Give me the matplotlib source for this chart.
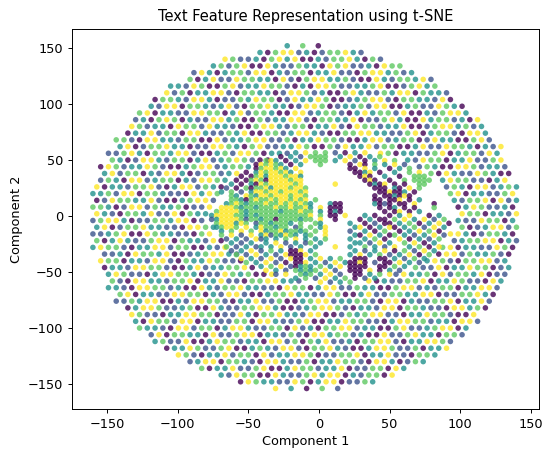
import matplotlib
matplotlib.use("Agg")
import matplotlib.pyplot as plt

# ---------------- text ----------------
title = "Text Feature Representation using t-SNE"
xlabel = "Component 1"
ylabel = "Component 2"
xticks = [-150, -100, -50, 0, 50, 100, 150]
yticks = [-150, -100, -50, 0, 50, 100, 150]
classes = [0, 1, 2, 3, 4]

# ---------------- data maps ----------------
# Outer ring of the embedding: one character per point on a staggered grid,
# digit = class label, '.' = no point.
outer_map = [
    "." * 25 + "2.3.0",
    "." * 21 + "20344120133421",
    "." * 17 + "431120342400213342031",
    "." * 15 + "2313400421132204341120433",
    "." * 13 + "14202331440213302241103442312",
    "." * 12 + "30241143322041034422310042133241",
    "." * 10 + "22143003412243310204431122340013423",
    "." * 9 + "4130224410332201443120034211324403221",
    "." * 8 + "033214420113243301422430012344103322140",
    "." * 7 + "21440332124103342201443012231440023114320",
    "." * 6 + "3402211443302413320044123310242331400213442",
    "." * 5 + "120343021144230031224410332240113420042331204",
    "." * 5 + "4312204331422100344213302241043312240013442312",
    "." * 4 + "02241330442113240033124421003344221134023310442",
    "." * 3 + "3310442213300412234411302243310024412330142200341",
    "." * 3 + "24013342201144320341122430031422413300241143320214",
    "." * 2 + "113420332441002314430221" + "." * 11 + "4302211340233142",
    "." * 2 + "320144213302412343100" + "." * 17 + "2143302241134",
    "." * 1 + "04312243100234412332" + "." * 21 + "132004431221",
    "." * 1 + "241330214420133124" + "." * 24 + "30421143200",
    "." * 1 + "13204412330214432" + "." * 27 + "243311024",
    "40221334102441320" + "." * 28 + "1320441232",
    "22314403321104243" + "." * 29 + "340221134",
    "0143322410023441" + "." * 30 + "213340412",
    "3320144132230114" + "." * 31 + "02431120",
    "421033241140322" + "." * 32 + "43302214",
    "134420113324401" + "." * 32 + "21143302",
    "2401334221104432" + "." * 31 + "30124413",
    "1123400432211034" + "." * 30 + "442013320",
    "30242113440322140" + "." * 29 + "123344021",
    "243310224413300214" + "." * 27 + "3402211430",
    "." * 1 + "112043324001234421" + "." * 25 + "0441322310",
    "." * 1 + "4330221441032243110" + "." * 23 + "24310334412",
    "." * 1 + "02214433100241223340" + "." * 20 + "3114022433012",
    "." * 2 + "2431102443320114323004" + "." * 15 + "142230413324011",
    "." * 2 + "3104422133402241103344221" + "." * 8 + "402113340224311042",
    "." * 2 + "221044331200421334221104330244113220034412133022441",
    "." * 3 + "3402211443302144100233422114300241133224401133420",
    "." * 3 + "1132440021443310224113002344122331044021133402241",
    "." * 4 + "02443112300421133442001234431022144033211044230",
    "." * 5 + "431102244330114203342214400132344110224331004",
    "." * 5 + "204331440221133044211340022433110244331220441",
    "." * 6 + "3221044133024421133041203344122003411234402",
    "." * 7 + "14033220411344022131044233120041134220331",
    "." * 8 + "231140024331220441303241120334410224431",
    "." * 9 + "0224311340023214410334210024431130224",
    "." * 11 + "4310224133041224430113340224110332",
    "." * 12 + "1244033210442113022433104420132",
    "." * 14 + "302241134002433122401133042",
    "." * 16 + "21433004211342440213304",
    "." * 19 + "043221143024401132",
    "." * 23 + "4.2.0.3.1",
]

# Central region (clusters), finer grid; '|' only separates groups of 10.
inner_map = [
    "..........|..........|..........|..........|..........",
    "..........|.......2.4|.3.3.1.0.2|.4........|..........",
    "..........|....0.2.1.|3333..2.4.|0.2.3.....|..........",
    "..........|.342.0.2.4|.333.2.4.1|.0.2.4.3..|..........",
    ".........0|43432.0.2.|..3.....0.|40.3.2.4.1|..........",
    ".........0|344342.4..|........00|.4.2..0.2.|3.........",
    ".......0.2|4344342.4.|.........0|024.0..2..|3.4.......",
    "......0.03|424443442.|..........|040..2..0.|.333......",
    ".....0.034|304444344.|..........|.040..0..3|.3333.....",
    "....2.0.20|434444434.|.....4....|..0204.0.0|..33......",
    "...1.0.303|3424443443|..........|...000.20.|4.3.......",
    "..2.3.1.24|4344344434|..........|....004002|.0........",
    "....32.432|4434443443|..........|...0.00204|0.........",
    "....332034|3343443434|.3........|...00.004.|0.2.......",
    "...2343233|3433434343|2...200...|...2010.00|.4...0....",
    "..44432332|3334334334|2.4.000...|....0.02.0|.0...3....",
    ".344443233|3333233343|3.2.020...|.....0.04.|0.2.......",
    "2444433232|3333333333|4.3.00.4..|.2.0..0.2.|4...0.2...",
    "1244443133|2330333323|3.4..0....|0.2.00.3.4|.2.4.1.3..",
    ".3444243.1|3323332.3.|.32.....2.|.0.1.00.2.|3.0.2.4.0.",
    ".23443.4.2|433233.13.|3.24.....2|4.0.2.40.2|.3.1.4.2..",
    "..2.3.4.3.|4233423323|.3.4....1.|.2.0.3..0.|2.4.3.0...",
    "..3.4.1.4.|24132432.2|3..4.....2|0.4.2.03.2|.1.2.4.1..",
    "...1.2.1.4|12.2.3.4.2|.2.3....2.|.2.3.0..4.|0.2.1.3...",
    "....2.1.2.|.2.4.1.2.1|3.2......2|2.1.4.2..3|.4.0.2....",
    "...3.1.2.1|2.2.4.1.2.|.2...4..2.|.3.2.1.4..|2.3.0.4...",
    "....1.2.4.|1.3.2.004.|2........2|.1.2.4.0.3|.1.4.2....",
    ".....3.1.4|.2.1.40004|.3......2.|4.2.3.1.2.|4.0.3.....",
    "......4.2.|1.4.1.400.|2.4.2.3..0|00..00.2.1|.3.2......",
    ".......3.2|.4.1.0.004|.2.1.4.200|40.1.00.4.|2.1.......",
    "..........|2.3.4.1023|2.3.2.4.00|00..00.3.2|..........",
    "..........|.4.2.1.323|23.4.1..00|0.4.0.2.1.|..........",
    "..........|...1.4..32|3.2.4.1..0|0.2.3.4...|..........",
    "..........|.......2.3|.1.4.2.3.0|.1.2......|..........",
    "..........|..........|..4.1.2.3.|..........|..........",
]

# grid geometry (data units) of the two maps
OUTER = dict(x0=-160.0, dx=5.5, y0=152.0, dy=6.0, stagger=2.75)
INNER = dict(x0=-76.0, dx=3.5, y0=60.0, dy=3.5, stagger=0.0)


def decode(rows, x0, dx, y0, dy, stagger):
    xs, ys, cs = [], [], []
    for r, row in enumerate(rows):
        row = row.replace("|", "")
        for c, ch in enumerate(row):
            if ch.isdigit():
                xs.append(x0 + dx * c + (stagger if r % 2 else 0.0))
                ys.append(y0 - dy * r)
                cs.append(int(ch))
    return xs, ys, cs


ox, oy, oc = decode(outer_map, **OUTER)
ix, iy, ic = decode(inner_map, **INNER)
xs, ys, cs = ox + ix, oy + iy, oc + ic

# ---------------- figure ----------------
fig = plt.figure(figsize=(5.5, 4.55), dpi=100)
ax = fig.add_axes([0.1309, 0.1011, 0.8491, 0.8352])

ax.scatter(xs, ys, c=cs, cmap="viridis", vmin=min(classes), vmax=max(classes),
           s=16, alpha=0.8, linewidths=0)

ax.set_xlim(-174.8, 155.7)
ax.set_ylim(-172.3, 167.0)
ax.set_xticks(xticks)
ax.set_yticks(yticks)
ax.tick_params(labelsize=9.3, width=0.7, length=3.0)
for sp in ax.spines.values():
    sp.set_linewidth(0.7)

ax.set_title(title, fontsize=10.5, pad=5.5)
ax.set_xlabel(xlabel, fontsize=9.3, labelpad=3)
ax.set_ylabel(ylabel, fontsize=9.3, labelpad=3)

fig.savefig("out.png", dpi=100)
